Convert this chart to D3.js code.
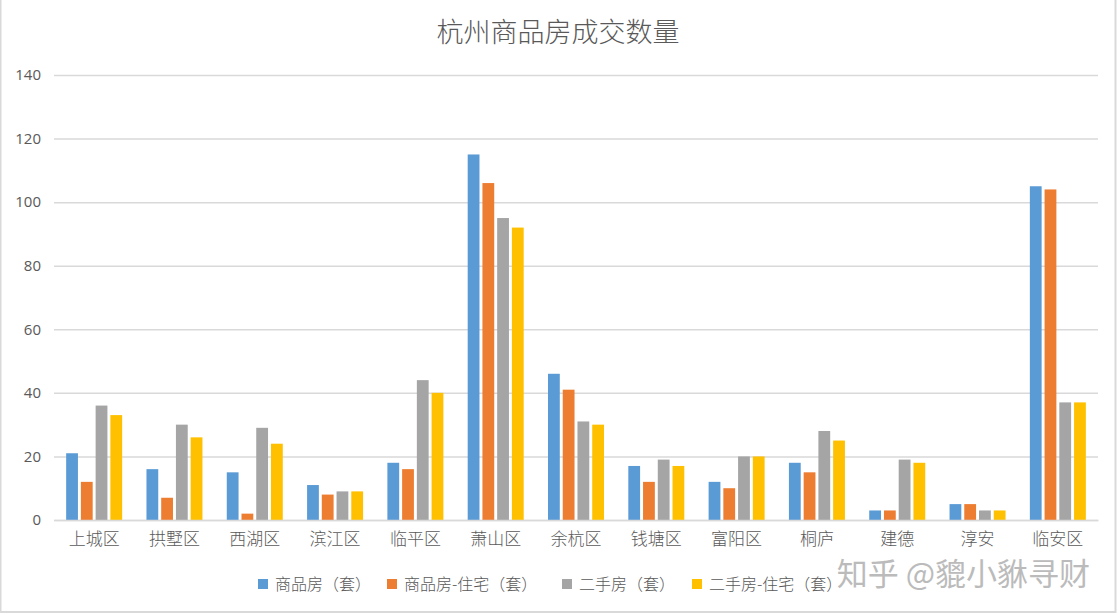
<!DOCTYPE html>
<html><head><meta charset="utf-8">
<script src="https://cdn.jsdelivr.net/npm/d3@7"></script>
<style>html,body{margin:0;padding:0;background:#fff;}</style>
</head><body>
<svg id="c" width="1118" height="615"></svg>
<script>
const categories = ["上城区","拱墅区","西湖区","滨江区","临平区","萧山区","余杭区","钱塘区","富阳区","桐庐","建德","淳安","临安区"];
const seriesNames = ["商品房（套）","商品房-住宅（套）","二手房（套）","二手房-住宅（套）"];
const s1 = [21,16,15,11,18,115,46,17,12,18,3,5,105];
const s2 = [12,7,2,8,16,106,41,12,10,15,3,5,104];
const s3 = [36,30,29,9,44,95,31,19,20,28,19,3,37];
const s4 = [33,26,24,9,40,92,30,17,20,25,18,3,37];
const yTicks = [0,20,40,60,80,100,120,140];
const colors = ["#5B9BD5","#ED7D31","#A5A5A5","#FFC000"];
const title = "杭州商品房成交数量";
const watermark = "知乎 @貔小貅寻财";

const series = [s1,s2,s3,s4];
const svg = d3.select("#c");
const font = "'Noto Sans CJK SC', sans-serif";
const L = 54, R = 1098, T = 75, B = 520;

svg.append("rect").attr("x",0.5).attr("y",-2).attr("width",1115).attr("height",614)
  .attr("fill","#fff").attr("stroke","#D9D9D9").attr("stroke-width",2);

const x = d3.scaleBand().domain(categories).range([L,R]).padding(0);
const y = d3.scaleLinear().domain([0,140]).range([B,T]);
const inner = d3.scaleBand().domain(d3.range(4)).range([-28,28]).paddingInner(0.2);

svg.append("text").attr("x",558).attr("y",42).attr("text-anchor","middle")
  .attr("font-family",font).attr("font-size",27).attr("font-weight",300).attr("fill","#595959").text(title);

const yAxis = d3.axisLeft(y).tickValues(yTicks).tickSize(-(R-L)).tickPadding(13);
const gy = svg.append("g").attr("transform",`translate(${L},0)`).call(yAxis);
gy.select(".domain").remove();
gy.selectAll(".tick line").attr("stroke","#D9D9D9").attr("stroke-width",1.5);
gy.selectAll(".tick text").attr("font-family","'Open Sans', sans-serif").attr("font-size",15).attr("fill","#595959");

const g = svg.append("g");
series.forEach((s,i)=>{
  g.selectAll(null).data(s).enter().append("rect")
    .attr("x",(d,j)=>x(categories[j])+x.bandwidth()/2+inner(i))
    .attr("width",inner.bandwidth())
    .attr("y",d=>y(d)).attr("height",d=>y(0)-y(d))
    .attr("fill",colors[i]);
});

const xAxis = d3.axisBottom(x).tickSize(0).tickPadding(13);
const gx = svg.append("g").attr("transform",`translate(0,${B})`).call(xAxis);
gx.select(".domain").attr("stroke","#D9D9D9").attr("stroke-width",1.5);
gx.selectAll(".tick text").attr("font-family",font).attr("font-size",17).attr("font-weight",300).attr("fill","#595959");

const legX = [258,387,562,692];
const lg = svg.append("g");
seriesNames.forEach((n,i)=>{
  lg.append("rect").attr("x",legX[i]).attr("y",579).attr("width",10).attr("height",10).attr("fill",colors[i]);
  lg.append("text").attr("x",legX[i]+17).attr("y",590).attr("font-family",font).attr("font-size",16)
    .attr("font-weight",300).attr("fill","#595959").text(n);
});

svg.append("text").attr("x",1090).attr("y",585).attr("text-anchor","end")
  .attr("font-family",font).attr("font-size",31).attr("fill","#B0B0B0").attr("opacity",0.85).text(watermark);
</script>
</body></html>
